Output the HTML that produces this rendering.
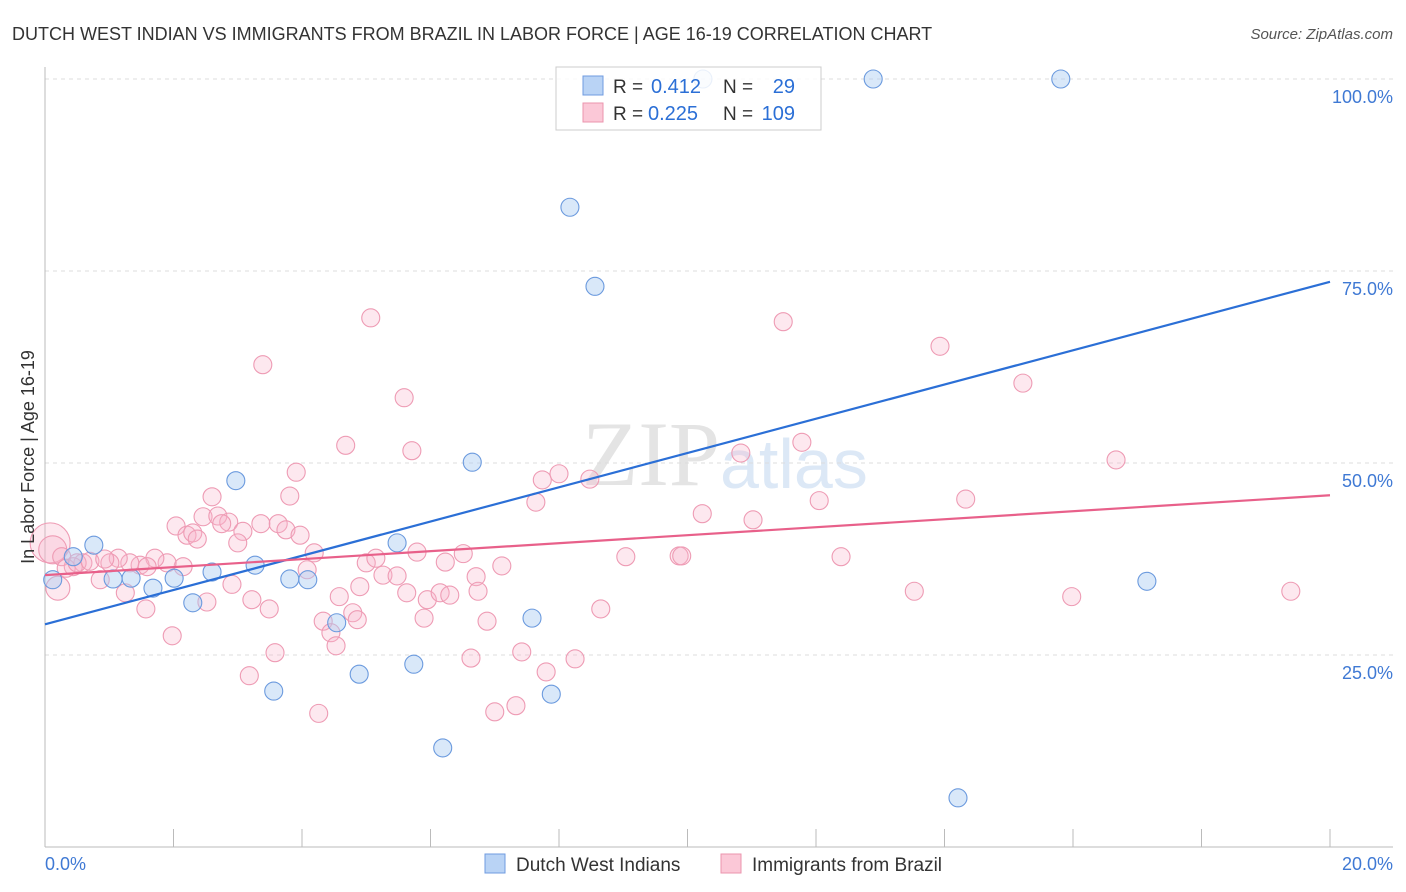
<!DOCTYPE html>
<html><head><meta charset="utf-8">
<style>
body{margin:0;background:#fff;font-family:"Liberation Sans",sans-serif;}
svg{display:block}
</style></head>
<body>
<svg id="chart" width="1406" height="892" viewBox="0 0 1406 892">
<text x="12" y="40" font-size="18" fill="#333">DUTCH WEST INDIAN VS IMMIGRANTS FROM BRAZIL IN LABOR FORCE | AGE 16-19 CORRELATION CHART</text>
<text x="1393" y="39" font-size="15" fill="#555" font-style="italic" text-anchor="end">Source: ZipAtlas.com</text>
<text x="720" y="485" font-size="92" fill="#e4e4e4" text-anchor="end" font-family="Liberation Serif,serif">ZIP</text>
<text x="720" y="488" font-size="70" fill="#dce8f6">atlas</text>
<g id="grid"></g>
<g id="axes"></g>
<g id="pts"></g>
<g id="lines"></g>
<text transform="translate(34,457) rotate(-90)" font-size="18" fill="#333" text-anchor="middle">In Labor Force | Age 16-19</text>
<g>
<rect x="556" y="67" width="265" height="63" fill="rgba(255,255,255,0.85)" stroke="#ccc"/>
<rect x="583" y="76" width="20" height="19" fill="#b9d3f5" stroke="#6f9be0"/>
<rect x="583" y="103" width="20" height="19" fill="#fbc8d7" stroke="#eb94ae"/>
<text x="613" y="93" font-size="19" fill="#333">R =</text><text x="651" y="93" font-size="20" fill="#2b6fd6">0.412</text>
<text x="723" y="93" font-size="19" fill="#333">N =</text><text x="795" y="93" font-size="20" fill="#2b6fd6" text-anchor="end">29</text>
<text x="613" y="120" font-size="19" fill="#333">R =</text><text x="648" y="120" font-size="20" fill="#2b6fd6">0.225</text>
<text x="723" y="120" font-size="19" fill="#333">N =</text><text x="795" y="120" font-size="20" fill="#2b6fd6" text-anchor="end">109</text>
</g>
<g>
<rect x="485" y="854" width="20" height="19" fill="#b9d3f5" stroke="#6f9be0"/>
<text x="516" y="871" font-size="19" fill="#333">Dutch West Indians</text>
<rect x="721" y="854" width="20" height="19" fill="#fbc8d7" stroke="#eb94ae"/>
<text x="752" y="871" font-size="19" fill="#333">Immigrants from Brazil</text>
</g>
</svg>
<script>
const yTicks=[25,50,75,100];
const yTickLabels=["25.0%","50.0%","75.0%","100.0%"];
const xTickLabels=["0.0%","20.0%"];
const blueX=[0.12,0.44,0.76,1.06,1.34,1.68,2.01,2.30,2.60,2.97,3.27,3.56,3.81,4.09,4.54,4.89,5.48,5.74,6.19,6.65,7.58,7.88,8.17,8.56,12.89,15.81,14.21,17.15,10.24];
const blueY=[34.8,37.8,39.3,34.9,35.0,33.7,35.0,31.8,35.8,47.7,36.7,20.3,34.9,34.8,29.2,22.5,39.6,23.8,12.9,50.1,29.8,19.9,83.3,73.0,100,100,6.4,34.6,100];
const pinkX=[0.08,0.12,0.20,4.68,3.91,3.81,2.60,2.04,2.46,2.69,2.86,2.75,3.08,3.36,3.63,3.75,3.97,3.00,2.21,2.30,2.37,4.19,4.08,2.15,1.90,1.71,1.48,1.32,1.14,1.01,0.86,1.25,1.57,2.91,2.52,3.22,3.49,1.98,3.58,3.18,4.26,4.58,4.33,4.45,4.53,4.79,0.26,0.59,0.44,1.59,5.71,7.74,8.00,8.48,7.64,5.00,5.15,5.26,5.48,5.79,6.23,6.51,7.11,9.04,6.71,6.74,4.90,5.63,5.95,6.15,6.30,4.86,5.90,6.88,8.65,6.63,7.42,7.80,8.25,7.00,7.33,5.07,3.39,5.59,11.49,13.93,15.22,10.83,11.78,16.67,14.33,12.05,10.23,11.02,9.87,9.91,12.39,13.53,15.98,19.39,0.33,0.50,0.70,0.93];
const pinkY=[39.6,38.7,33.7,52.3,48.8,45.7,45.6,41.8,43.0,43.1,42.3,42.1,41.1,42.1,42.1,41.3,40.6,39.6,40.6,40.9,40.1,38.3,36.1,36.5,37.0,37.6,36.7,37.0,37.6,37.0,34.8,33.1,31.0,34.2,31.9,32.2,31.0,27.5,25.3,22.3,17.4,32.6,29.4,27.9,26.2,30.5,37.8,37.0,36.5,36.5,51.6,47.8,48.6,47.9,44.9,37.0,37.6,35.4,35.3,38.4,37.1,38.2,36.6,37.8,35.2,33.3,33.9,33.1,32.2,33.1,32.8,29.6,29.8,29.4,31.0,24.6,25.4,22.8,24.5,17.6,18.4,68.9,62.8,58.5,68.4,65.2,60.4,51.3,52.7,50.4,45.3,45.1,43.4,42.6,37.9,37.9,37.8,33.3,32.6,33.3,36.3,37.0,37.2,37.5];
const pinkR=[20,14,12];
const blueTrend=[29.0,73.6];
const pinkTrend=[35.4,45.8];
const NS="http://www.w3.org/2000/svg";
const sx=v=>45+v/20*1285;
const sy=v=>847-v/100*768;
function mk(tag,attrs,parent){const e=document.createElementNS(NS,tag);for(const k in attrs)e.setAttribute(k,attrs[k]);parent.appendChild(e);return e;}
const grid=document.getElementById('grid'),axes=document.getElementById('axes'),pts=document.getElementById('pts'),lines=document.getElementById('lines');
yTicks.forEach((t,i)=>{
 const l=mk('line',{x1:45,x2:1393,y1:sy(t),y2:sy(t),stroke:'#ddd','stroke-dasharray':'4,4'},grid);
 
 
 const tx=mk('text',{x:1393,y:sy(t)+24,'font-size':18,fill:'#3f79d4','text-anchor':'end'},grid);
 tx.textContent=yTickLabels[i];
 
 
});
const ax=mk('line',{x1:45,x2:1393,y1:847,y2:847,stroke:'#bbb'},axes);


const ay=mk('line',{x1:45,x2:45,y1:67,y2:847,stroke:'#bbb'},axes);


for(let i=1;i<=10;i++){
 const t=mk('line',{x1:sx(i*2),x2:sx(i*2),y1:829,y2:847,stroke:'#bbb'},axes);
 
 
}
const xl0=mk('text',{x:45,y:870,'font-size':18,fill:'#3f79d4'},axes);
xl0.textContent=xTickLabels[0];


const xl1=mk('text',{x:1393,y:870,'font-size':18,fill:'#3f79d4','text-anchor':'end'},axes);
xl1.textContent=xTickLabels[1];


pinkX.forEach((x,i)=>{
 const c=mk('circle',{cx:sx(x),cy:sy(pinkY[i]),r:pinkR[i]||9,fill:'rgba(248,180,202,0.3)',stroke:'#ee9bb4','stroke-width':1.1},pts);
 
 
});
blueX.forEach((x,i)=>{
 const c=mk('circle',{cx:sx(x),cy:sy(blueY[i]),r:9,fill:'rgba(170,203,242,0.45)',stroke:'#6b9ade','stroke-width':1.1},pts);
 
 
});
const bl=mk('line',{x1:sx(0),x2:sx(20),y1:sy(blueTrend[0]),y2:sy(blueTrend[1]),stroke:'#2b6fd6','stroke-width':2.2},lines);


const pl=mk('line',{x1:sx(0),x2:sx(20),y1:sy(pinkTrend[0]),y2:sy(pinkTrend[1]),stroke:'#e8608a','stroke-width':2.2},lines);


</script>
</body></html>
